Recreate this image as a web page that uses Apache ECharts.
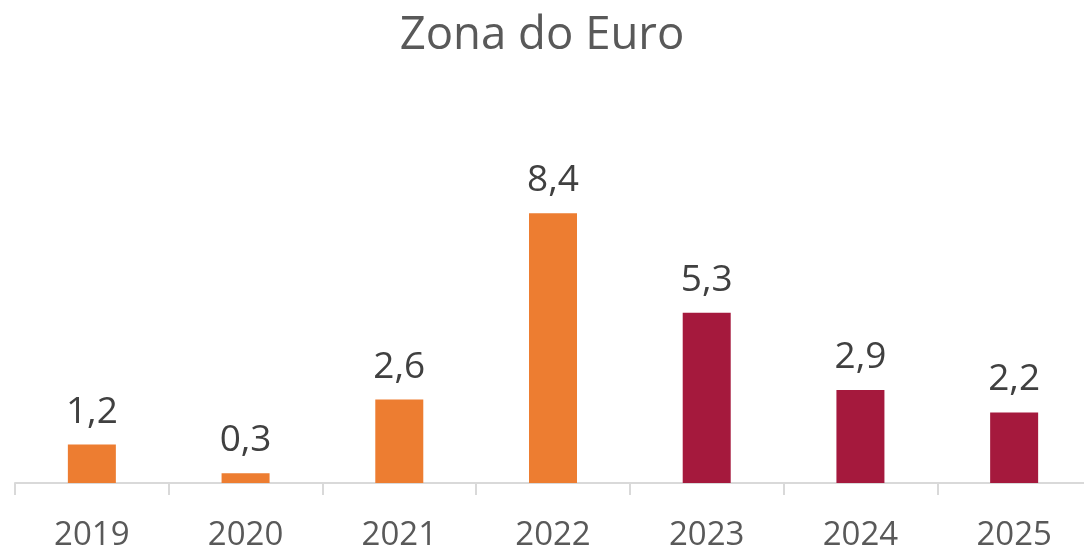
<!DOCTYPE html>
<html>
<head>
<meta charset="utf-8">
<script src="https://cdn.jsdelivr.net/npm/echarts@6/dist/echarts.min.js"></script>
<style>
html, body { margin: 0; padding: 0; background: #fff; }
#chart { width: 1084px; height: 546px; }
</style>
</head>
<body>
<div id="chart"></div>
<script>
// anos e inflação (%)
var years = ['2019', '2020', '2021', '2022', '2023', '2024', '2025'];
var observed = [1.2, 0.3, 2.6, 8.4, '-', '-', '-'];
var forecast = ['-', '-', '-', '-', 5.3, 2.9, 2.2];

var font = '"Open Sans", "Noto Sans", sans-serif';

function labelFmt(p) {
    return Number(p.value).toFixed(1).replace('.', ',');
}

var barLabel = {
    show: true,
    position: 'top',
    distance: 14,
    formatter: labelFmt,
    color: '#404040',
    fontSize: 37,
    fontFamily: font
};

var myChart = echarts.init(document.getElementById('chart'));
myChart.setOption({
    animation: false,
    title: {
        text: 'Zona do Euro',
        left: 'center',
        top: 8,
        textStyle: {
            color: '#595959',
            fontSize: 45.5,
            fontWeight: 'normal',
            fontFamily: font
        }
    },
    grid: {
        left: 15,
        right: -7,
        top: 162,
        bottom: 63,
        containLabel: false,
        outerBoundsMode: 'none'
    },
    xAxis: {
        type: 'category',
        data: years,
        axisLine: { lineStyle: { color: '#D9D9D9', width: 2 } },
        axisTick: { show: true, length: 12, lineStyle: { color: '#D9D9D9', width: 2 } },
        axisLabel: {
            color: '#595959',
            fontSize: 33,
            fontFamily: font,
            margin: 36
        }
    },
    yAxis: {
        type: 'value',
        min: 0,
        max: 10,
        show: false,
        splitLine: { show: false }
    },
    series: [
        {
            name: 'Observado',
            type: 'bar',
            stack: 'a',
            barWidth: 48,
            data: observed,
            itemStyle: { color: '#ED7D31' },
            label: barLabel
        },
        {
            name: 'Projeção',
            type: 'bar',
            stack: 'a',
            barWidth: 48,
            data: forecast,
            itemStyle: { color: '#A5193D' },
            label: barLabel
        }
    ]
});
</script>
</body>
</html>
